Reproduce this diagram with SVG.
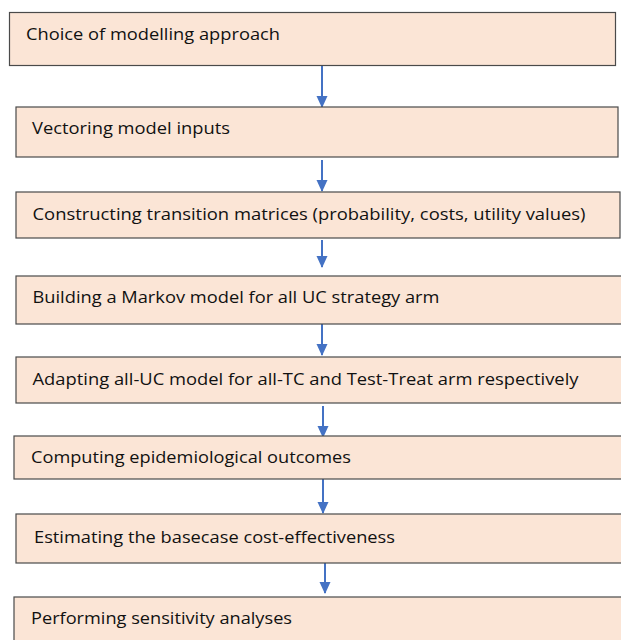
<svg xmlns="http://www.w3.org/2000/svg" width="621" height="640" viewBox="0 0 621 640">
<defs>
<style>
.box{fill:#FBE5D6;stroke:#4a4a4a;stroke-width:1.2}
.t{font-family:"Open Sans","Liberation Sans",sans-serif;font-size:17px;fill:#111}
.c{stroke:#4472C4;stroke-width:2;fill:none}
</style>
<marker id="ah" markerWidth="12" markerHeight="13" refX="12" refY="6" orient="auto" markerUnits="userSpaceOnUse" viewBox="0 0 13 12">
<path d="M0,0 L13,6 L0,12 Z" fill="#4472C4"/>
</marker>
</defs>
<rect width="621" height="640" fill="#ffffff"/>
<g id="connectors">
<line class="c" x1="322" y1="66" x2="322" y2="107" marker-end="url(#ah)"/>
<line class="c" x1="322" y1="160" x2="322" y2="191" marker-end="url(#ah)"/>
<line class="c" x1="322" y1="240" x2="322" y2="267" marker-end="url(#ah)"/>
<line class="c" x1="322" y1="324" x2="322" y2="355" marker-end="url(#ah)"/>
<line class="c" x1="323" y1="406" x2="323" y2="437" marker-end="url(#ah)"/>
<line class="c" x1="323" y1="479" x2="323" y2="513" marker-end="url(#ah)"/>
<line class="c" x1="325" y1="563" x2="325" y2="593" marker-end="url(#ah)"/>
</g>
<g id="n1"><rect class="box" x="9.5" y="12.5" width="606" height="53"/><text class="t" x="26" y="40" textLength="254" lengthAdjust="spacingAndGlyphs">Choice of modelling approach</text></g>
<g id="n2"><rect class="box" x="16" y="107" width="602" height="50"/><text class="t" x="32" y="134" textLength="198" lengthAdjust="spacingAndGlyphs">Vectoring model inputs</text></g>
<g id="n3"><rect class="box" x="16" y="192" width="604" height="46"/><text class="t" x="32.5" y="220" textLength="553" lengthAdjust="spacingAndGlyphs">Constructing transition matrices (probability, costs, utility values)</text></g>
<g id="n4"><rect class="box" x="16" y="276" width="610" height="48"/><text class="t" x="32.5" y="303" textLength="407" lengthAdjust="spacingAndGlyphs">Building a Markov model for all UC strategy arm</text></g>
<g id="n5"><rect class="box" x="16" y="357" width="610" height="46"/><text class="t" x="32.5" y="385" textLength="546" lengthAdjust="spacingAndGlyphs">Adapting all-UC model for all-TC and Test-Treat arm respectively</text></g>
<g id="n6"><rect class="box" x="14" y="436" width="612" height="43"/><text class="t" x="31" y="463" textLength="320" lengthAdjust="spacingAndGlyphs">Computing epidemiological outcomes</text></g>
<g id="n7"><rect class="box" x="16" y="514" width="610" height="49"/><text class="t" x="34" y="543" textLength="361" lengthAdjust="spacingAndGlyphs">Estimating the basecase cost-effectiveness</text></g>
<g id="n8"><rect class="box" x="14" y="597" width="612" height="60"/><text class="t" x="31" y="624" textLength="261" lengthAdjust="spacingAndGlyphs">Performing sensitivity analyses</text></g>
</svg>
